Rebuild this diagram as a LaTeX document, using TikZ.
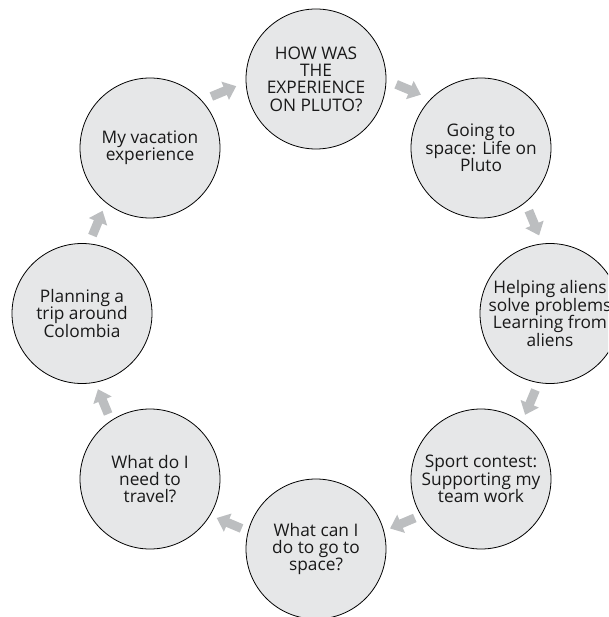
\documentclass[tikz,border=0pt]{standalone}
\usepackage{fontspec}
\setmainfont{Open Sans}
\usetikzlibrary{calc,arrows.meta}
\definecolor{bubble}{HTML}{E6E7E8}
\definecolor{arrowgray}{HTML}{BCBEC0}
\tikzset{
  bubble/.style={circle, draw=black, line width=0.8pt, fill=bubble, minimum size=140pt, inner sep=0pt, align=center, font=\fontsize{17.3}{17.4}\selectfont, text=black!90},
  flow/.style={draw=arrowgray, line width=9pt, -{Triangle[width=19pt,length=12pt]}}
}
\newcommand{\flowarrow}[3]{%
  \draw[flow] ($(#1)!0.425!(#2)!#3!90:(#2)$) -- ($(#1)!0.575!(#2)!#3!-90:(#1)$);}
\begin{document}
\begin{tikzpicture}[x=1pt,y=-1pt]
\useasboundingbox (0,0) rectangle (608,617);
\clip (0,0) rectangle (608,617);
\node[bubble] (top) at (316,79) {HOW WAS\\THE\\EXPERIENCE\\ON PLUTO?};
\node[bubble] (tr) at (481,148) {Going to\\space: Life on\\Pluto};
\node[bubble] (r) at (550,313.5) {Helping aliens\\solve problems\\Learning from\\aliens};
\node[bubble] (br) at (481,479) {Sport contest:\\Supporting my\\team work};
\node[bubble] (b) at (316,549) {What can I\\do to go to\\space?};
\node[bubble] (bl) at (150,479) {What do I\\need to\\travel?};
\node[bubble] (l) at (82,313.5) {Planning a\\trip around\\Colombia};
\node[bubble] (tl) at (150,148) {My vacation\\experience};
\flowarrow{tl}{top}{24pt}
\flowarrow{top}{tr}{26pt}
\flowarrow{tr}{r}{20pt}
\flowarrow{r}{br}{16pt}
\flowarrow{br}{b}{10pt}
\flowarrow{b}{bl}{10pt}
\flowarrow{bl}{l}{14pt}
\flowarrow{l}{tl}{20pt}
\end{tikzpicture}
\end{document}
